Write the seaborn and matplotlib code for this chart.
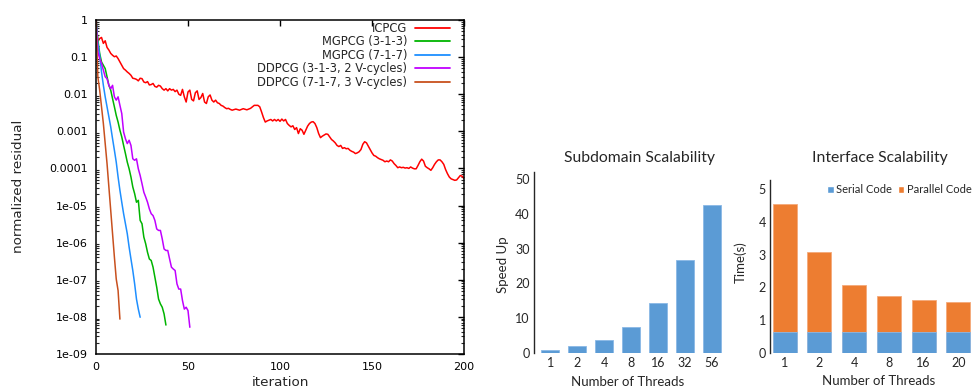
import numpy as np
import pandas as pd
import matplotlib
matplotlib.use("Agg")
import matplotlib.pyplot as plt
from matplotlib.patches import Patch
from matplotlib.ticker import LogLocator, FixedLocator, NullLocator
import seaborn as sns

# ---------------- data ----------------
# Left panel: log10(normalized residual) per iteration
icpcg_iter = list(range(0, 75)) + [76, 78, 80, 82, 84, 86, 88] + list(range(89, 201))
icpcg_exp = [0, -0.58, -0.50, -0.47, -0.63, -0.56, -0.74, -0.81, -0.90, -0.95,
             -0.99, -0.97, -1.04, -1.13, -1.22, -1.31, -1.35, -1.40, -1.44, -1.49,
             -1.57, -1.58, -1.60, -1.64, -1.57, -1.58, -1.67, -1.69, -1.66, -1.75,
             -1.74, -1.71, -1.79, -1.81, -1.76, -1.78, -1.85, -1.89, -1.85, -1.91,
             -1.85, -1.89, -1.87, -1.93, -1.89, -2.00, -2.03, -1.87, -2.07, -2.21,
             -1.94, -1.89, -2.14, -2.18, -1.96, -1.91, -2.14, -2.09, -1.98, -2.21,
             -2.25, -2.07, -2.02, -2.16, -2.21, -2.16, -2.23, -2.25, -2.30, -2.32,
             -2.36, -2.39, -2.38, -2.41, -2.43,
             -2.40, -2.43, -2.39, -2.42, -2.38, -2.30, -2.30,
             -2.34, -2.48, -2.63, -2.75, -2.72, -2.70, -2.68, -2.72, -2.68, -2.72,
             -2.68, -2.73, -2.67, -2.72, -2.68, -2.79, -2.84, -2.88, -2.85, -2.95,
             -2.90, -3.06, -2.93, -2.97, -3.08, -2.97, -2.86, -2.79, -2.75, -2.74,
             -2.79, -2.90, -3.06, -3.17, -3.13, -3.10, -3.07, -3.08, -3.15, -3.22,
             -3.26, -3.31, -3.38, -3.41, -3.38, -3.46, -3.44, -3.47, -3.46, -3.51,
             -3.54, -3.56, -3.60, -3.58, -3.55, -3.49, -3.35, -3.28, -3.31, -3.40,
             -3.49, -3.58, -3.65, -3.67, -3.71, -3.74, -3.76, -3.78, -3.82, -3.80,
             -3.82, -3.77, -3.80, -3.87, -3.92, -3.98, -3.96, -3.98, -3.97, -3.99,
             -3.98, -4.00, -3.96, -3.99, -4.01, -4.01, -3.92, -3.82, -3.75, -3.80,
             -3.94, -3.98, -4.01, -4.05, -3.98, -3.89, -3.82, -3.77, -3.77, -3.82,
             -3.89, -4.03, -4.14, -4.23, -4.28, -4.30, -4.32, -4.31, -4.25, -4.19,
             -4.21, -4.27]

mg313_exp = [0, -0.54, -0.90, -1.13, -1.22, -1.31, -1.53, -1.76, -1.89, -2.12,
             -2.34, -2.57, -2.75, -2.97, -3.15, -3.38, -3.60, -3.83, -4.01, -4.23,
             -4.50, -4.68, -4.91, -4.86, -5.40, -5.49, -5.85, -6.03, -6.26, -6.44,
             -6.48, -6.66, -6.93, -7.20, -7.52, -7.65, -7.74, -7.92, -8.22]

mg717_exp = [0, -0.63, -0.95, -1.40, -1.76, -2.07, -2.34, -2.61, -2.88, -3.20,
             -3.51, -3.83, -4.23, -4.59, -4.91, -5.22, -5.49, -5.76, -6.12, -6.44,
             -6.75, -7.11, -7.52, -7.79, -8.01]

dd313_exp = [0, -0.86, -1.04, -1.17, -1.35, -1.53, -1.58, -1.76, -1.85, -1.76,
             -2.07, -2.16, -2.07, -2.30, -2.52, -3.02, -3.20, -3.33, -3.24, -3.38,
             -3.74, -3.78, -3.74, -4.01, -4.19, -4.41, -4.64, -4.77, -4.91, -5.09,
             -5.22, -5.27, -5.40, -5.63, -5.67, -5.67, -5.90, -6.17, -6.21, -6.21,
             -6.44, -6.66, -6.71, -6.75, -7.11, -7.25, -7.25, -7.56, -7.79, -7.74,
             -7.83, -8.28]

dd717_exp = [0, -1.53, -1.89, -2.34, -2.79, -3.33, -3.87, -4.50, -5.13, -5.76,
             -6.39, -6.98, -7.29, -8.06]

series_names = ["ICPCG", "MGPCG (3-1-3)", "MGPCG (7-1-7)",
                "DDPCG (3-1-3, 2 V-cycles)", "DDPCG (7-1-7, 3 V-cycles)"]
series_colors = ["#ff0000", "#00b400", "#1e8fff", "#c000ff", "#c8501e"]

ytick_vals = [1e-9, 1e-8, 1e-7, 1e-6, 1e-5, 1e-4, 1e-3, 1e-2, 1e-1, 1]
ytick_labels = ["1e-09", "1e-08", "1e-07", "1e-06", "1e-05",
                "0.0001", "0.001", "0.01", "0.1", "1"]

# Middle panel
sub_threads = ["1", "2", "4", "8", "16", "32", "56"]
sub_speedup = [0.9, 1.9, 3.6, 7.5, 14.4, 26.8, 42.5]

# Right panel
int_threads = ["1", "2", "4", "8", "16", "20"]
int_serial = [0.65, 0.65, 0.65, 0.65, 0.65, 0.65]
int_total = [4.54, 3.09, 2.07, 1.73, 1.61, 1.55]

BLUE = "#5b9bd5"
ORANGE = "#ed7d31"

# ---------------- style ----------------
sns.set_theme(style="white")
plt.rcParams["font.family"] = ["DejaVu Sans"]

W, H = 974, 390
fig = plt.figure(figsize=(W / 100, H / 100), dpi=100)

def frac(l, t, r, b):
    return [l / W, 1 - b / H, (r - l) / W, (b - t) / H]

# ---------------- left panel ----------------
ax1 = fig.add_axes(frac(96, 20, 464, 354))
all_exps = [icpcg_exp, mg313_exp, mg717_exp, dd313_exp, dd717_exp]
for name, col, ex in zip(series_names, series_colors, all_exps):
    it = icpcg_iter if name == "ICPCG" else list(range(len(ex)))
    df = pd.DataFrame({"iteration": it, "residual": np.power(10.0, ex)})
    sns.lineplot(data=df, x="iteration", y="residual", ax=ax1, color=col,
                 linewidth=1.1, label=name, estimator=None, sort=False)
ax1.set_yscale("log")
ax1.set_xlim(0, 200)
ax1.set_ylim(1e-9, 1)
ax1.yaxis.set_major_locator(FixedLocator(ytick_vals))
ax1.set_yticklabels(ytick_labels)
ax1.yaxis.set_minor_locator(LogLocator(base=10, subs=np.arange(2, 10), numticks=20))
ax1.set_xticks([0, 50, 100, 150, 200])
ax1.xaxis.set_minor_locator(NullLocator())
ax1.tick_params(axis="both", which="major", direction="in", length=4, width=1,
                top=True, right=True, labelsize=8, pad=6, colors="black")
ax1.tick_params(axis="y", which="minor", direction="in", length=2, width=0.8,
                left=True, right=True)
for sp in ax1.spines.values():
    sp.set_linewidth(1.1)
    sp.set_color("black")
ax1.set_xlabel("iteration", fontsize=9.7)
ax1.set_ylabel("normalized residual", fontsize=9.7)
ax1.xaxis.set_label_coords(0.5, -0.066)
ax1.yaxis.set_label_coords(-0.194, 0.501)
leg = ax1.legend(loc="upper right", bbox_to_anchor=(0.962, 0.995), frameon=False,
                 fontsize=8.3, markerfirst=False, handlelength=3.0,
                 handletextpad=0.7, labelspacing=0.05, borderpad=0,
                 borderaxespad=0)
for l in leg.get_lines():
    l.set_linewidth(1.3)

# ---------------- middle panel ----------------
ax2 = fig.add_axes(frac(534, 172, 724, 353))
sns.barplot(x=sub_threads, y=sub_speedup, order=sub_threads, color=BLUE,
            saturation=1, width=0.68, ax=ax2, edgecolor="#8ab8e6", linewidth=0.6)
ax2.set_xlim(-0.6, 6.45)
ax2.set_ylim(0, 52)
ax2.set_yticks([0, 10, 20, 30, 40, 50])
for s in ["top", "right", "bottom"]:
    ax2.spines[s].set_visible(False)
ax2.spines["left"].set_color("#262626")
ax2.spines["left"].set_linewidth(1.0)

# ---------------- right panel ----------------
ax3 = fig.add_axes(frac(770, 180, 974, 353))
sns.barplot(x=int_threads, y=int_total, order=int_threads, color=ORANGE,
            saturation=1, width=0.69, ax=ax3, edgecolor="#f4a97a", linewidth=0.6)
sns.barplot(x=int_threads, y=int_serial, order=int_threads, color=BLUE,
            saturation=1, width=0.69, ax=ax3, edgecolor="#8ab8e6", linewidth=0.6)
ax3.set_xlim(-0.42, 5.45)
ax3.set_ylim(0, 5.27)
ax3.set_yticks([0, 1, 2, 3, 4, 5])
for s in ["top", "right", "bottom"]:
    ax3.spines[s].set_visible(False)
ax3.spines["left"].set_color("#262626")
ax3.spines["left"].set_linewidth(1.0)

for ax in (ax2, ax3):
    ax.tick_params(axis="both", length=0, labelsize=9, colors="#262626", pad=3)
    for t in ax.get_xticklabels() + ax.get_yticklabels():
        t.set_fontfamily("Lato")
    ax.set_xlabel("Number of Threads", fontsize=9.5, family="Lato", color="#262626")

ax2.set_ylabel("Speed Up", fontsize=9.5, family="Lato", color="#262626")
ax3.set_ylabel("Time(s)", fontsize=9.5, family="Lato", color="#262626")
ax2.xaxis.set_label_coords(0.492, -0.125)
ax3.xaxis.set_label_coords(0.534, -0.13)
ax2.yaxis.set_label_coords(-0.13, 0.486)
ax3.yaxis.set_label_coords(-0.112, 0.528)

ax3.legend(handles=[Patch(facecolor=BLUE), Patch(facecolor=ORANGE)],
           labels=["Serial Code", "Parallel Code"], ncol=2, loc="upper right",
           bbox_to_anchor=(0.99, 0.975), frameon=False, handlelength=0.6,
           handleheight=0.6, handletextpad=0.25, columnspacing=0.5,
           borderpad=0, borderaxespad=0,
           prop={"family": "Lato", "size": 8.0}, labelcolor="#262626")

fig.text(639 / W, 1 - 158 / H, "Subdomain Scalability", ha="center", va="center",
         fontsize=11.3, family="Lato", color="#262626")
fig.text(879.5 / W, 1 - 158 / H, "Interface Scalability", ha="center", va="center",
         fontsize=11.3, family="Lato", color="#262626")

fig.savefig("out.png", dpi=100)
